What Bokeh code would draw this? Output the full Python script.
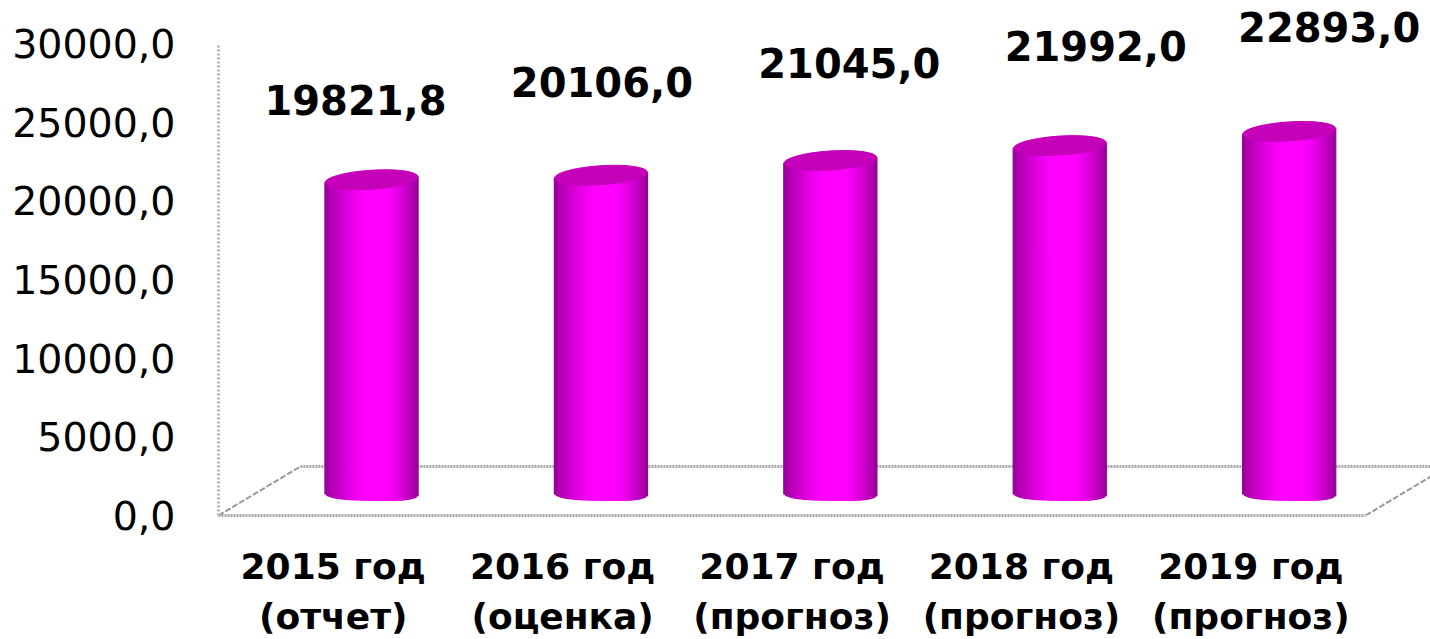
import math
from bokeh.plotting import figure
from bokeh.models import Range1d, LinearAxis, FixedTicker, ColumnDataSource
from bokeh.core.properties import value
from bokeh.embed import file_html
from bokeh.resources import INLINE

years = ["2015 год", "2016 год", "2017 год", "2018 год", "2019 год"]
kinds = ["(отчет)", "(оценка)", "(прогноз)", "(прогноз)", "(прогноз)"]
amounts = [19821.8, 20106.0, 21045.0, 21992.0, 22893.0]
value_labels = ["19821,8", "20106,0", "21045,0", "21992,0", "22893,0"]
y_ticks = [0, 5000, 10000, 15000, 20000, 25000, 30000]
y_tick_labels = ["0,0", "5000,0", "10000,0", "15000,0", "20000,0", "25000,0", "30000,0"]

FONT = "DejaVu Sans"
GREY = "#a6a6a6"
X_END, Y_END = 5.283, 32740
SHIFT_X, SHIFT_Y = 0.167, 1526      # depth of the bars' plane
DEPTH_X, DEPTH_Y = 0.357, 3115      # depth of the floor

p = figure(width=1430, height=639, output_backend="svg", toolbar_location=None,
           x_range=Range1d(0, X_END), y_range=Range1d(0, Y_END),
           min_border_left=218, min_border_right=0, min_border_top=0, min_border_bottom=124,
           outline_line_color=None, background_fill_color="white", border_fill_color="white")
p.grid.visible = False
p.extra_x_ranges["bars"] = Range1d(-SHIFT_X, X_END - SHIFT_X)
p.extra_y_ranges["bars"] = Range1d(-SHIFT_Y, Y_END - SHIFT_Y)

# value axis
ya = p.yaxis[0]
ya.ticker = FixedTicker(ticks=y_ticks)
ya.major_label_overrides = dict(zip(y_ticks, y_tick_labels))
ya.bounds = (0, 30000)
ya.major_tick_line_color = None
ya.minor_tick_line_color = None
ya.axis_line_color = "#b4b4b4"
ya.axis_line_width = 3
ya.axis_line_dash = "2 2"
ya.major_label_text_font = FONT
ya.major_label_text_font_size = "39.5px"
ya.major_label_text_color = "black"
ya.major_label_standoff = 37

# category axes, one per text line
centers = [i + 0.5 for i in range(len(years))]
xa = p.xaxis[0]
xa.ticker = FixedTicker(ticks=centers)
xa.major_label_overrides = dict(zip(centers, years))
xa.bounds = (0, 5)
xa.major_tick_line_color = None
xa.minor_tick_line_color = None
xa.axis_line_color = GREY
xa.axis_line_width = 3
xa.axis_line_dash = "2 1"
xa.major_label_text_font = FONT
xa.major_label_text_font_style = "bold"
xa.major_label_text_font_size = "36px"
xa.major_label_text_color = "black"
xa.major_label_standoff = 24

xb = LinearAxis(ticker=FixedTicker(ticks=centers), major_label_overrides=dict(zip(centers, kinds)),
                major_tick_line_color=None, minor_tick_line_color=None, axis_line_color=None,
                major_label_text_font=FONT, major_label_text_font_style="bold",
                major_label_text_font_size="36px", major_label_text_color="black",
                major_label_standoff=0)
p.add_layout(xb, "below")

# floor edges
p.segment(x0=[DEPTH_X], y0=[DEPTH_Y], x1=[X_END + 0.2], y1=[DEPTH_Y], line_color=GREY, line_width=3, line_dash="2 1")
p.segment(x0=[0, 5], y0=[0, 0], x1=[DEPTH_X, 5 + DEPTH_X], y1=[DEPTH_Y, DEPTH_Y], line_color="#999999", line_width=2, line_dash="6 2")


def shade(u):
    t = (u + 1) / 2
    k = min(1.0, t / 0.42) if t < 0.42 else (1.0 if t < 0.68 else max(0.0, (1 - t) / 0.32))
    k = k ** 0.7
    v = int(round(0x90 + (0xff - 0x90) * k))
    return f"#{v:02x}00{v:02x}"


HALF = 0.203
N = 47
ELL_B, TILT = 560, 190
lefts, rights, tops, bottoms, colors = [], [], [], [], []
for c, amount in zip(centers, amounts):
    for j in range(N):
        u = -1 + (j + 0.5) * 2 / N
        lefts.append(c + HALF * (-1 + j * 2 / N))
        rights.append(c + HALF * (-1 + (j + 1) * 2 / N))
        tops.append(amount + TILT * u)
        bottoms.append(-ELL_B * (1 - abs(u) ** 3) ** (1 / 3) - TILT * 0.3 * u)
        colors.append(shade(u))
p.quad(left=lefts, right=rights, top=tops, bottom=bottoms, fill_color=colors, line_color=colors, line_width=1.2,
       x_range_name="bars", y_range_name="bars")
p.ellipse(x=centers, y=amounts, width=93, height=19, width_units="screen", height_units="screen",
          angle=0.065, fill_color="#c400b8", line_color="#c400b8", line_width=1,
          x_range_name="bars", y_range_name="bars")

# value labels
src = ColumnDataSource(dict(x=centers, y=amounts, t=value_labels,
                            dx=[-16, 1, 19, 36, 40], dy=[-80, -93, -97, -100, -104]))
p.text(x="x", y="y", text="t", x_offset="dx", y_offset="dy", source=src, text_align="center",
       text_baseline="middle", text_font=value(FONT), text_font_style="bold", text_font_size="40px",
       text_color="black", x_range_name="bars", y_range_name="bars")

open("out.html", "w").write(file_html(p, INLINE))
